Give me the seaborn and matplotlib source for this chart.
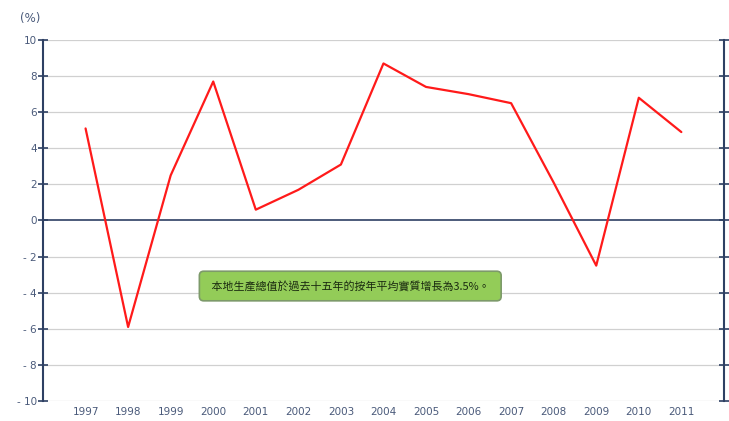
import pandas as pd
import seaborn as sns
import matplotlib.pyplot as plt

years = [1997, 1998, 1999, 2000, 2001, 2002, 2003, 2004, 2005, 2006, 2007, 2008, 2009, 2010, 2011]
growth = [5.1, -5.9, 2.5, 7.7, 0.6, 1.7, 3.1, 8.7, 7.4, 7.0, 6.5, 2.1, -2.5, 6.8, 4.9]
y_ticks = [-10, -8, -6, -4, -2, 0, 2, 4, 6, 8, 10]
note = "本地生產總值於過去十五年的按年平均實質增長為3.5%。"

sns.set_theme(style="white")
plt.rcParams['font.family'] = ['Noto Sans CJK TC', 'DejaVu Sans']

navy = '#2e4063'
label_col = '#4a5a7a'

df = pd.DataFrame({'year': years, 'growth': growth})

fig = plt.figure(figsize=(7.29, 4.21), dpi=100)
ax = fig.add_axes([0.059, 0.0475, 0.934, 0.8575])

for t in y_ticks:
    if t != 0:
        ax.axhline(t, color='#d0d0d0', lw=0.9, zorder=0)
ax.axhline(0, color=navy, lw=1.2, zorder=1)

sns.lineplot(data=df, x='year', y='growth', ax=ax, color='#ff1a1a', lw=1.6, zorder=3)

ax.set_xlim(1996, 2012)
ax.set_ylim(-10, 10)
ax.set_xticks(years)
ax.set_xticklabels([str(y) for y in years], fontsize=7.5, color=label_col,
                   family='DejaVu Sans')
ax.set_yticks(y_ticks)
ax.set_yticklabels([str(t).replace('-', '- ') for t in y_ticks], fontsize=7.5,
                   color=label_col, family='DejaVu Sans')
ax.set_xlabel('')
ax.set_ylabel('')

for side in ['top', 'bottom']:
    ax.spines[side].set_visible(False)
for side in ['left', 'right']:
    ax.spines[side].set_color(navy)
    ax.spines[side].set_linewidth(1.5)

ax.tick_params(axis='y', which='both', left=True, right=True, direction='inout',
               length=7, width=1.2, color=navy, pad=1)
ax.tick_params(axis='x', bottom=False, length=0, pad=4)

fig.text(0.027, 0.955, '(%)', fontsize=8.5, color=label_col, ha='left', va='center',
         family='DejaVu Sans')

ax.text(2003.22, -3.63, " " + note + " ", fontsize=7.9, color='#1a2a10', ha='center',
        va='center', zorder=5,
        bbox=dict(boxstyle='round,pad=0.85,rounding_size=0.4', facecolor='#93cc58',
                  edgecolor='#7d9a6a', lw=1.2))

fig.savefig('out.png', dpi=100)
